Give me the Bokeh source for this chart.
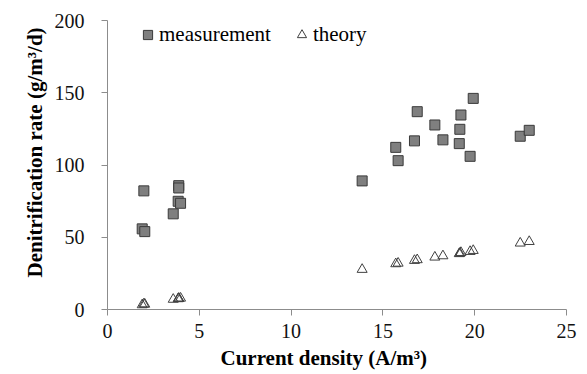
from bokeh.plotting import figure
from bokeh.models import Range1d, Legend, LegendItem, Title, FixedTicker
from bokeh.embed import file_html
from bokeh.resources import INLINE

# ---- data ----
current_density = [1.89, 1.98, 2.03, 3.58, 3.85, 3.88, 3.88, 3.98, 13.87, 15.70, 15.83,
                   16.72, 16.87, 17.83, 18.27, 19.16, 19.19, 19.25, 19.75, 19.92, 22.48, 22.97]
measurement = [55.8, 82.1, 53.9, 66.2, 74.9, 85.7, 84.1, 73.5, 89.0, 112.2, 103.0,
               116.7, 136.9, 127.7, 117.4, 114.8, 124.7, 134.6, 106.0, 146.1, 119.9, 124.0]
theory = [3.2, 3.8, 3.6, 7.0, 7.4, 7.6, 7.6, 7.8, 27.7, 31.6, 32.0,
          33.9, 34.4, 36.2, 37.1, 38.6, 38.9, 39.4, 40.1, 40.8, 45.9, 47.0]
x_ticks = [0, 5, 10, 15, 20, 25]
y_ticks = [0, 50, 100, 150, 200]
x_title = "Current density (A/m\u00b3)"
y_title = "Denitrification rate (g/m\u00b3/d)"
series_names = ["measurement", "theory"]

SERIF = "Liberation Serif"

p = figure(width=587, height=374, output_backend="svg", toolbar_location=None,
           x_range=Range1d(0, 25), y_range=Range1d(0, 200),
           min_border_left=107, min_border_right=21, min_border_top=20, min_border_bottom=65)
p.outline_line_color = None
p.xgrid.visible = False
p.ygrid.visible = False
p.background_fill_color = "white"
p.border_fill_color = "white"

r_meas = p.scatter(current_density, measurement, marker="square", size=10,
                   fill_color="#7f7f7f", line_color="#3a3a3a", line_width=1)
r_theo = p.scatter(current_density, theory, marker="triangle", size=10,
                   fill_color="white", fill_alpha=0.0, line_color="#404040", line_width=1)

for ax, ticks in ((p.xaxis[0], x_ticks), (p.yaxis[0], y_ticks)):
    ax.ticker = FixedTicker(ticks=ticks)
    ax.axis_line_color = "#8c8c8c"
    ax.major_tick_line_color = "#8c8c8c"
    ax.major_tick_in = 0
    ax.major_tick_out = 6
    ax.minor_tick_line_color = None
    ax.major_label_text_font = SERIF
    ax.major_label_text_font_size = "20px"
    ax.major_label_text_color = "#111111"

p.xaxis[0].major_label_standoff = 8
p.yaxis[0].major_label_standoff = 17

# axis titles, positioned as in the reference (not centred on the plot frame)
p.add_layout(Title(text=x_title, align="left", offset=113, standoff=7,
                   text_font=SERIF, text_font_size="21px", text_font_style="bold",
                   text_color="#000000"), "below")
p.add_layout(Title(text=y_title, align="left", offset=32, standoff=9,
                   text_font=SERIF, text_font_size="21px", text_font_style="bold",
                   text_color="#000000"), "left")

legend = Legend(items=[LegendItem(label=series_names[0], renderers=[r_meas]),
                       LegendItem(label=series_names[1], renderers=[r_theo])],
                orientation="horizontal", location=(29, 262),
                padding=0, margin=0, spacing=19, label_standoff=0,
                glyph_width=23, glyph_height=23,
                label_text_font=SERIF, label_text_font_size="21px",
                label_text_color="#000000", border_line_color=None,
                background_fill_alpha=0)
p.add_layout(legend)

open("out.html", "w").write(file_html(p, INLINE))
